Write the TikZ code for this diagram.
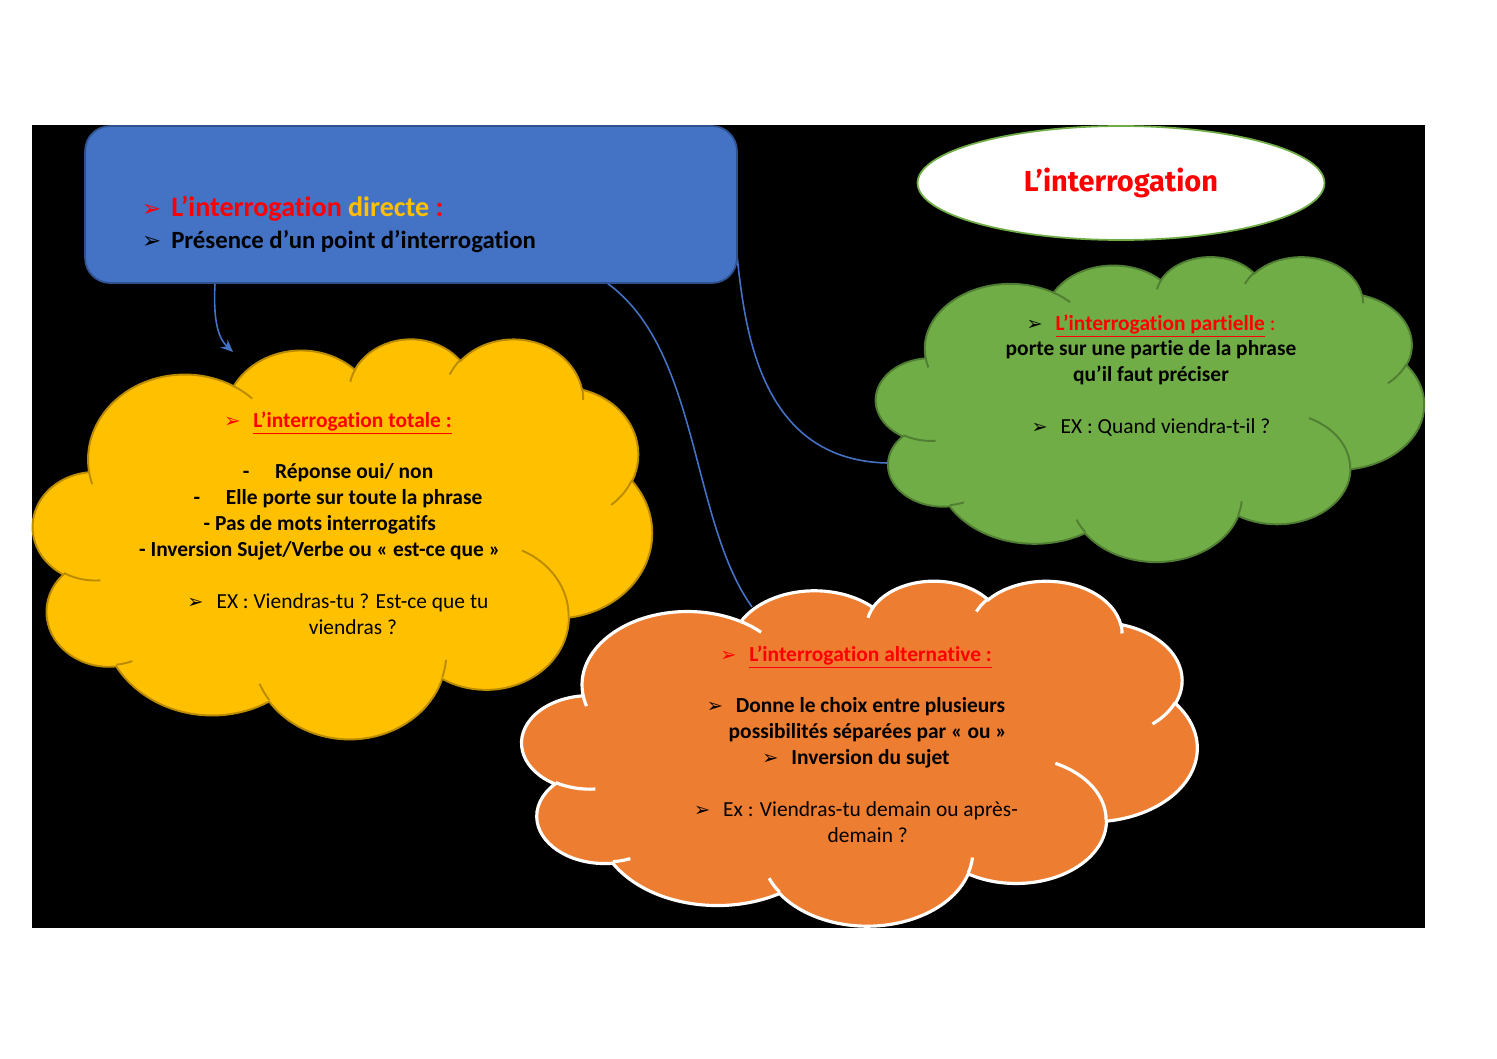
\documentclass[tikz,border=0pt]{standalone}
\usepackage{fontspec}
\setmainfont{Carlito}[Ligatures={TeX,NoCommon}]
\newfontfamily\dingfont{DejaVu Sans}
\newfontfamily\titlefont{Fira Sans}
\usetikzlibrary{shapes.geometric,arrows.meta}

\definecolor{boxblue}{HTML}{4472C4}
\definecolor{boxborder}{HTML}{2F528F}
\definecolor{cloudgreen}{HTML}{70AD47}
\definecolor{greenborder}{HTML}{507E32}
\definecolor{cloudyellow}{HTML}{FFC000}
\definecolor{yellowborder}{HTML}{BC8C00}
\definecolor{cloudorange}{HTML}{ED7D31}
\definecolor{titlered}{HTML}{FF0000}

\newcommand{\puce}[1][black]{{\dingfont\fontsize{11}{11}\selectfont\textcolor{#1}{➢}}}
\newcommand{\grospuce}[1][black]{{\dingfont\fontsize{13}{13}\selectfont\textcolor{#1}{➢}}}

% arcs of the cloud outline (angles given on the ellipse, turned into parameters)
\pgfmathdeclarefunction{parsta}{3}{\pgfmathparse{atan2(#1*sin(#3),#2*cos(#3))}}
\pgfmathdeclarefunction{pdelta}{4}{\pgfmathparse{mod(parsta(#1,#2,#3+#4)-parsta(#1,#2,#3)+720,360)}}
\newcommand{\oarc}[4]{arc[start angle={parsta(#1,#2,#3)}, delta angle={pdelta(#1,#2,#3,#4)}, x radius=#1, y radius=#2]}

% cloud drawn in the box of a node: #1 node, #2 width, #3 height (px), #4 style
\newcommand{\nuage}[4]{%
  \begin{scope}[shift={(#1.north west)}, x={#2*0.02cm/4320}, y={-#3*0.02cm/4320}]
    \path[#4] (390,1437) \oarc{675.3}{919}{-190.48748}{123.78053}
        \oarc{533.3}{726.7}{-144.10238}{89.94523}
        \oarc{436.5}{594.5}{-145.80792}{99.72302}
        \oarc{485.7}{659.5}{-130.98607}{117.24173}
        \oarc{533.3}{727.3}{-78.70888}{109.02692}
        \oarc{677.5}{922}{-46.26725}{130.269}
        \oarc{578.5}{786.7}{0.62502}{114.03333}
        \oarc{675.2}{921.5}{22.4516}{115.17255}
        \oarc{772}{1054.3}{66.24263}{75.71102}
        \oarc{436}{591.8}{-274.94208}{146.73557}
        \oarc{434.5}{594.5}{-246.8285}{152.51885} -- cycle;
    \path[#4, fill=none] (469.3,2617.7) \oarc{434.5}{594.5}{86.742}{26.4295}
        (692.8,3489.9) \oarc{436}{591.8}{73.61047}{11.44747}
        (1647.8,3909) \oarc{675.2}{921.5}{137.62415}{14.0811}
        (2882.7,3475.1) \oarc{675.2}{921.5}{6.45327}{15.99835}
        (3412.9,2295.4) \oarc{578.5}{786.7}{-70.29235}{70.91737}
        (4179.8,1535.4) \oarc{533.3}{727.3}{30.31803}{27.7515}
        (3832.4,542.6) \oarc{485.7}{659.5}{-13.74433}{14.8589}
        (2907.8,395.2) \oarc{485.7}{659.5}{-149.18145}{18.19537}
        (2214.1,472) \oarc{436.5}{594.5}{-163.49427}{17.68635}
        (1400,519.2) \oarc{675.3}{919}{-66.70695}{12.31935}
        (412.7,1578.9) \oarc{675.3}{919}{157.65435}{11.85817};
  \end{scope}}

\begin{document}
\begin{tikzpicture}[x=0.02cm,y=-0.02cm,
    link/.style={draw=boxblue, line width=0.9pt},
    cadre/.style={inner sep=0pt, outer sep=0pt},
    texte/.style={align=center, font=\bfseries\fontsize{12.2}{14.74}\selectfont}]
   		\useasboundingbox (0,0) rectangle (1497,1058);
        \fill[black] (32,125) rectangle (1425,928);

        % connectors
        \coordinate (totalein) at (233,352);
        \coordinate (altin) at (752,607);
        \coordinate (partin) at (887,463);
        \node at (411,204.5) [cadre, minimum width=13.04cm, minimum height=3.14cm] (direct) {};
        \draw[link,-{Stealth[length=7pt,width=6pt]}] ([xshift=-3.92cm]direct.south) .. controls (213,320) and (218,338) .. (totalein);
        \draw[link] ([xshift=3.92cm]direct.south) .. controls (700,350) and (690,520) .. (altin);
        \draw[link] ([yshift=-1.01cm]direct.east) .. controls (745,330) and (760,460) .. (partin);

        % boxes
        \node at (411,204.5) [draw=boxborder, fill=boxblue, rounded corners=0.5cm, minimum width=13.04cm, minimum height=3.14cm, line width=1pt] (directbox) {};
        \node at (136,224) [anchor=west, align=left, font=\bfseries\fontsize{14.1}{18.1}\selectfont] (directtxt)
            {\grospuce[titlered]\hspace{0.4em}{\fontsize{16}{18.1}\selectfont\textcolor{titlered}{L’interrogation} \textcolor{cloudyellow}{directe} \textcolor{titlered}{:}}\\
             \grospuce\hspace{0.4em}Présence d’un point d’interrogation};
        \node at (1121,183) [ellipse, draw=cloudgreen, fill=white, minimum width=8.14cm, minimum height=2.28cm, line width=1pt] (titre)
            {\titlefont\bfseries\fontsize{16.5}{18}\selectfont\textcolor{titlered}{L’interrogation}};

        % clouds
        \node at (1150,408.5) [cadre, minimum width=10.96cm, minimum height=6.1cm] (partielle) {};
        \nuage{partielle}{548}{305}{fill=cloudgreen, draw=greenborder, line width=1.1pt}
        \node at (342.5,538) [cadre, minimum width=12.38cm, minimum height=8cm] (totale) {};
        \nuage{totale}{619}{400}{fill=cloudyellow, draw=yellowborder, line width=1.1pt}
        \node at (859.5,752.5) [cadre, minimum width=13.5cm, minimum height=6.9cm] (alternative) {};
        \nuage{alternative}{675}{345}{fill=cloudorange, draw=white, line width=1.8pt}

        % texts
        \node at (1151,375.5) [texte] (partielletxt)
            {\puce\hspace{0.6em}\textcolor{titlered}{\underline{L’interrogation partielle} {\mdseries:}}\\
             porte sur une partie de la phrase\\
             qu’il faut préciser\\[14.74pt]
             {\mdseries\puce\hspace{0.6em}EX : Quand viendra-t-il ?}};
        \node at (338,523) [texte] (totaletxt)
            {\puce[titlered]\hspace{0.6em}\textcolor{titlered}{\underline{L’interrogation totale :}}\\[14.74pt]
             -\hspace{1.2em}Réponse oui/ non\\
             -\hspace{1.2em}Elle porte sur toute la phrase\\
             - Pas de mots interrogatifs\hspace*{1.7em}\mbox{}\\
             - Inversion Sujet/Verbe ou « est-ce que »\hspace*{1.7em}\mbox{}\\[14.74pt]
             {\mdseries\puce\hspace{0.6em}EX : Viendras-tu ? Est-ce que tu}\\
             \hspace*{1.4em}{\mdseries viendras ?}};
        \node at (856,744) [texte] (alternativetxt)
            {\puce[titlered]\hspace{0.6em}\textcolor{titlered}{\underline{L’interrogation alternative :}}\\[14.74pt]
             \puce\hspace{0.6em}Donne le choix entre plusieurs\\
             \hspace*{1.1em}possibilités séparées par « ou »\\
             \puce\hspace{0.6em}Inversion du sujet\\[14.74pt]
             {\mdseries\puce\hspace{0.6em}Ex : Viendras-tu demain ou après-}\\
             \hspace*{1.1em}{\mdseries demain ?}};
    \end{tikzpicture}
\end{document}
